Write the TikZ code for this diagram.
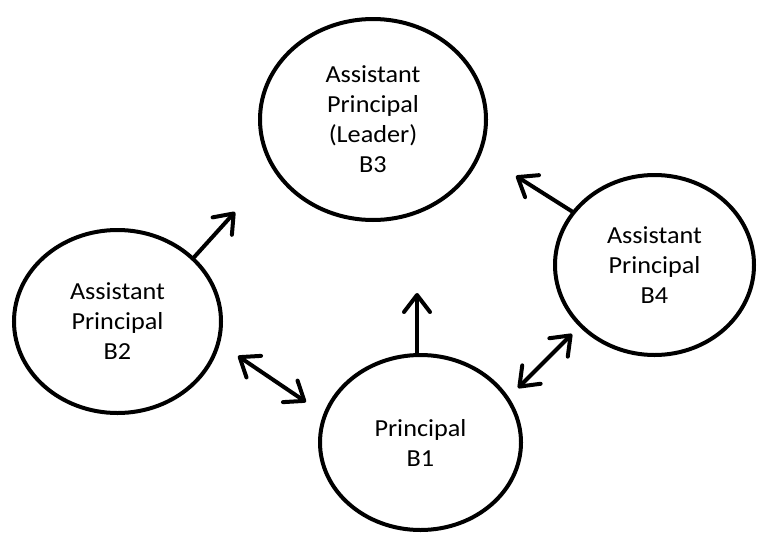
\documentclass[tikz,border=0pt]{standalone}
\usepackage{fontspec}
\setmainfont{Carlito}[FakeStretch=1.07]
\usetikzlibrary{shapes.geometric,arrows.meta}
\tikzset{
  bubble/.style={draw=black, line width=4pt, ellipse, inner sep=0pt, align=center,
    font=\fontsize{24.5}{30}\selectfont},
  conn/.style={line width=4pt, line cap=round,
    -{Straight Barb[length=17pt,width=26pt,line cap=round,line join=round]}},
  dconn/.style={line width=4pt, line cap=round,
    {Straight Barb[length=17pt,width=26pt,line cap=round,line join=round]}-{Straight Barb[length=17pt,width=26pt,line cap=round,line join=round]}}
}
\begin{document}
\begin{tikzpicture}[x=1pt,y=-1pt]
\useasboundingbox (0,0) rectangle (757,533);
\node[bubble, minimum width=226pt, minimum height=201pt] (b3) at (373,119.5) {Assistant\\Principal\\(Leader)\\B3};
\node[bubble, minimum width=207pt, minimum height=183pt] (b2) at (117.5,321.5) {Assistant\\Principal\\B2};
\node[bubble, minimum width=199pt, minimum height=180pt] (b4) at (654.5,265) {Assistant\\Principal\\B4};
\node[bubble, minimum width=201pt, minimum height=175pt] (b1) at (420.5,442.5) {Principal\\B1};
\coordinate (t23) at (235,212);
\coordinate (t43) at (516,176);
\coordinate (t13) at (417,293);
\coordinate (d2a) at (238,356);
\coordinate (d2b) at (306,402);
\coordinate (d4a) at (518,388);
\coordinate (d4b) at (572,334);
\draw[conn] (b2.40.5) -- (t23);
\draw[conn] (b4.147) -- (t43);
\draw[conn] (t13 |- b1.north) -- (t13);
\draw[dconn] (d2a) -- (d2b);
\draw[dconn] (d4a) -- (d4b);
\end{tikzpicture}
\end{document}
